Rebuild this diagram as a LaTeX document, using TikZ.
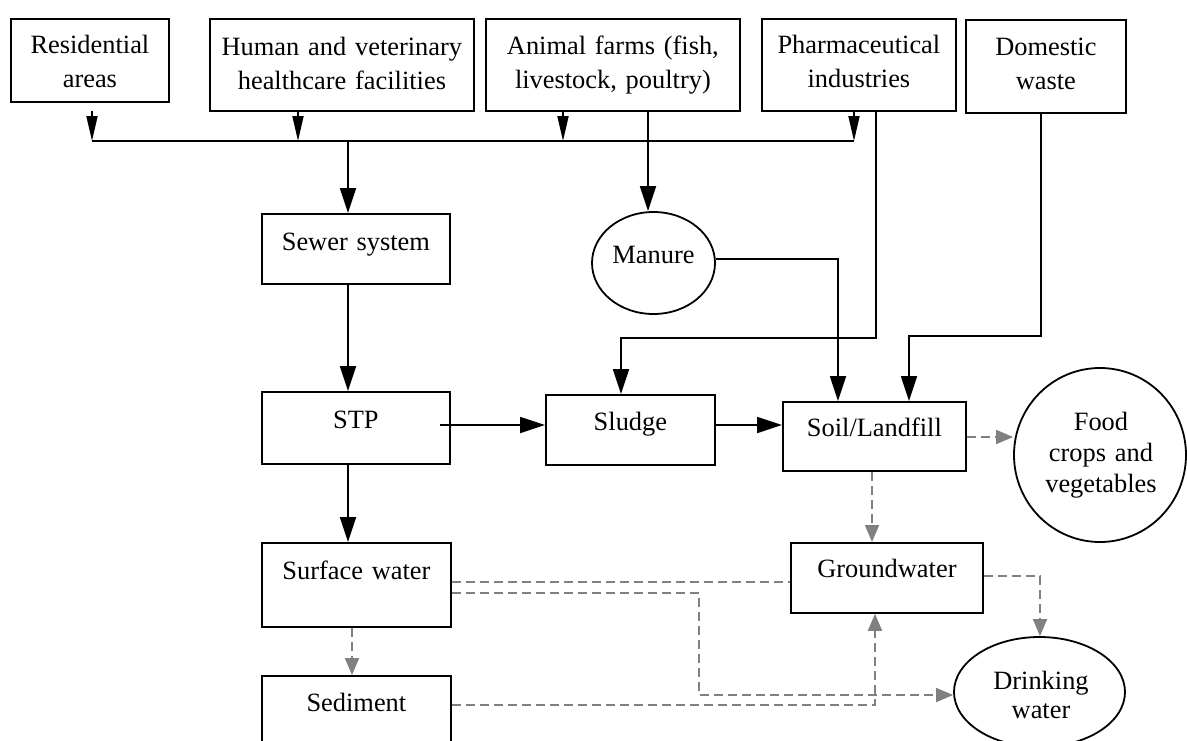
\documentclass[tikz,border=0pt]{standalone}
\usepackage{fontspec}
\setmainfont{Liberation Serif}
\usetikzlibrary{arrows.meta,shapes.geometric}
\definecolor{dgray}{RGB}{128,128,128}
\tikzset{
  box/.style={draw, line width=1.8pt, inner sep=0pt, align=center, anchor=north west,
    font=\fontsize{26.4}{34}\selectfont},
  oval/.style={draw, ellipse, line width=1.8pt, inner sep=0pt},
  lbl/.style={inner sep=0pt, align=center, text width=170pt, anchor=base},
  flow/.style={line width=1.8pt},
  arr/.style={line width=1.8pt, -{Triangle[length=25pt,width=16pt]}},
  busarr/.style={line width=1.8pt, -{Triangle[length=25pt,width=11pt]}},
  gline/.style={color=dgray, line width=1.8pt, dash pattern=on 9pt off 5pt},
  garr/.style={gline, -{Triangle[length=17pt,width=14pt]}}
}
\begin{document}
\begin{tikzpicture}[x=1pt,y=-1pt]
\useasboundingbox (0,0) rectangle (1187,740);
\clip (0,0) rectangle (1187,740);

% top sources
\node[box, text width=158pt, text height=35pt, text depth=48pt] (res) at (10,18) {Residential\\areas};
\node[box, text width=264pt, text height=37pt, text depth=55pt] (hum) at (209,18) {Human and veterinary\\healthcare facilities};
\node[box, text width=254pt, text height=36pt, text depth=56pt] (ani) at (485,18) {Animal farms (fish,\\livestock, poultry)};
\node[box, text width=194pt, text height=35pt, text depth=57pt] (pha) at (761,18) {Pharmaceutical\\industries};
\node[box, text width=160pt, text height=36pt, text depth=57pt] (dom) at (965,19) {Domestic\\waste};

% middle / lower boxes
\node[box, text width=188pt, text height=37pt, text depth=33pt] (sewer) at (261,213) {Sewer system};
\node[box, text width=188pt, text height=37pt, text depth=35pt] (stp) at (261,391) {STP};
\node[box, text width=169pt, text height=36pt, text depth=34pt] (sludge) at (545,394) {Sludge};
\node[box, text width=183pt, text height=35pt, text depth=34pt] (soil) at (782,401) {Soil/Landfill};
\node[box, text width=192pt, text height=35pt, text depth=35pt] (gw) at (790,542) {Groundwater};
\node[box, text width=189pt, text height=37pt, text depth=47pt] (surf) at (261,542) {Surface water};
\node[box, text width=189pt, text height=36pt, text depth=54pt] (sed) at (261,675) {Sediment};

% ellipses
\node[oval, minimum width=123pt, minimum height=102pt] (manure) at (653.5,263) {};
\node[lbl, font=\fontsize{26.4}{31}\selectfont] (manuret) at (653.5,263) {Manure};
\node[oval, minimum width=172pt, minimum height=174pt] (food) at (1100,455) {};
\node[lbl, font=\fontsize{26.4}{31}\selectfont] (foodt) at (1101,430) {Food\\crops and\\vegetables};
\node[oval, minimum width=171pt, minimum height=110pt] (drink) at (1039.5,692) {};
\node[lbl, font=\fontsize{26.4}{29}\selectfont] (drinkt) at (1041,689) {Drinking\\water};

% collector bus
\coordinate (b1s) at (92,111);
\coordinate (b1) at (92,141);
\coordinate (b2) at (298,141);
\coordinate (b3) at (563,141);
\coordinate (b4) at (854,141);
\coordinate (bj) at (348,141);
\draw[busarr] (b1s) -- (b1);
\draw[busarr] (hum.south -| b2) -- (b2);
\draw[busarr] (ani.south -| b3) -- (b3);
\draw[busarr] (pha.south -| b4) -- (b4);
\draw[flow] (b1) -- (b4);

% main chain
\draw[arr] (bj) -- (bj |- sewer.north);
\draw[arr] (sewer.south -| bj) -- (stp.north -| bj);
\draw[arr] (stp.south -| bj) -- (surf.north -| bj);
\coordinate (so) at (440,425);
\draw[arr] (so) -- (so -| sludge.west);
\draw[arr] (so -| sludge.east) -- (so -| soil.west);

% animal farms -> manure -> soil
\coordinate (am) at (648,0);
\draw[arr] (ani.south -| am) -- (manure.north -| am);
\coordinate (mc) at (838,259);
\draw[arr] (manure.east |- mc) -- (mc) -- (mc |- soil.north);

% pharmaceutical -> sludge
\coordinate (p1) at (876,338);
\coordinate (p2) at (621,338);
\draw[arr] (pha.south -| p1) -- (p1) -- (p2) -- (p2 |- sludge.north);

% domestic waste -> soil
\coordinate (d1) at (1041,336);
\coordinate (d2) at (909,336);
\draw[arr] (dom.south -| d1) -- (d1) -- (d2) -- (d2 |- soil.north);

% grey dashed flows
\coordinate (sf) at (0,437);
\draw[garr] (soil.east |- sf) -- (food.west |- sf);
\coordinate (sg) at (872,0);
\draw[garr] (soil.south -| sg) -- (gw.north -| sg);
\coordinate (g1) at (1040,576);
\draw[garr] (gw.east |- g1) -- (g1) -- (g1 |- drink.north);
\coordinate (s1) at (0,582);
\draw[gline] (surf.east |- s1) -- (gw.west |- s1);
\coordinate (s2) at (699,593);
\coordinate (s3) at (699,695);
\draw[garr] (surf.east |- s2) -- (s2) -- (s3) -- (s3 -| drink.west);
\coordinate (e1) at (875,705);
\draw[garr] (sed.east |- e1) -- (e1) -- (e1 |- gw.south);
\coordinate (ss) at (352,0);
\draw[garr] (surf.south -| ss) -- (sed.north -| ss);
\end{tikzpicture}
\end{document}
